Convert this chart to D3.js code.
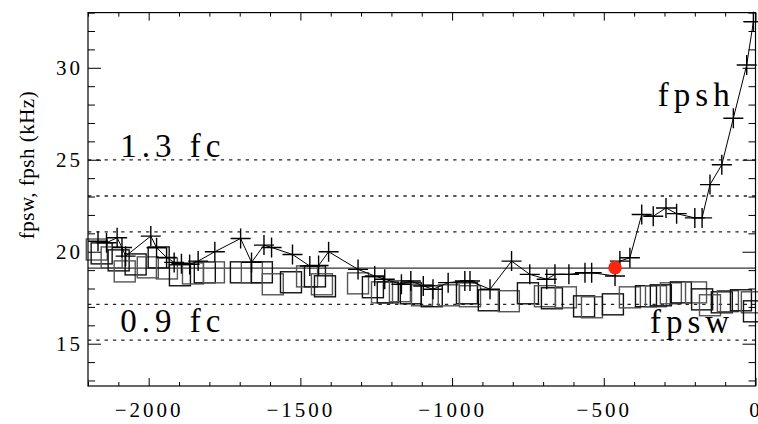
<!DOCTYPE html>
<html>
<head>
<meta charset="utf-8">
<script src="https://cdn.jsdelivr.net/npm/d3@7"></script>
<style>
  body { margin: 0; background: #fff; }
  svg { display: block; }
</style>
</head>
<body>
<div id="chart"></div>
<script>
// CONSTANTS AND GLOBALS
const width = 758,
  height = 424,
  margin = { top: 12.6, bottom: 38, left: 88, right: 2.5 };

// fpsh (plus signs, joined by a line)
const fpshTime = [-2167, -2139, -2104, -2088, -2076, -1993, -1974, -1941, -1916, -1892,
  -1865, -1837, -1782, -1697, -1661, -1620, -1595, -1526, -1469, -1440,
  -1407, -1310, -1255, -1222, -1167, -1136, -1095, -1063, -1013, -958,
  -941, -875, -804, -744, -688, -661, -615, -562, -540, -463,
  -447, -414, -375, -337, -295, -260, -200, -176, -150, -111,
  -73, -29, -7];
const fpshValue = [20.57, 20.49, 20.76, 20.23, 19.76, 20.85, 20.22, 19.69, 19.42, 19.35,
  19.31, 19.49, 20.0, 20.72, 19.42, 20.36, 20.23, 19.85, 19.22, 19.25,
  20.0, 19.04, 18.68, 18.5, 18.23, 18.41, 18.14, 17.96, 18.32, 18.41,
  18.41, 17.96, 19.49, 18.77, 18.5, 18.77, 18.77, 18.86, 18.86, 18.68,
  19.49, 19.67, 22.02, 21.93, 22.38, 22.07, 21.84, 21.84, 23.65, 24.73,
  27.26, 30.15, 32.5];

// fpsw (open squares)
const fpswTime = [-2171, -2155, -2122, -2099, -2079, -2043, -2003, -1967, -1940, -1897,
  -1854, -1815, -1785, -1696, -1660, -1627, -1591, -1531, -1478, -1452,
  -1429, -1419, -1310, -1261, -1231, -1212, -1172, -1136, -1099, -1067,
  -1011, -951, -941, -879, -813, -750, -694, -671, -625, -565,
  -539, -470, -414, -361, -328, -312, -279, -246, -196, -176,
  -150, -111, -91, -48, -12, -5];
const fpswValue = [20.12, 19.91, 19.69, 19.53, 18.93, 19.31, 19.15, 19.69, 19.09, 18.72,
  18.82, 18.88, 18.88, 18.88, 18.88, 18.88, 18.23, 18.34, 18.66, 18.66,
  18.23, 18.12, 18.28, 18.07, 17.79, 17.79, 17.85, 17.74, 17.63, 17.58,
  17.63, 17.74, 17.58, 17.36, 17.31, 17.74, 17.58, 17.47, 17.52, 17.03,
  16.98, 17.14, 17.52, 17.58, 17.58, 17.63, 17.74, 17.79, 17.79, 17.41,
  17.09, 17.25, 17.31, 17.36, 17.25, 16.76];

// reference levels (fc and its multiples)
const fc = 19.11;
const dottedLevels = [24.99, 23.03, 21.08, 17.14, 15.19];
const markTime = [-463];
const markValue = [19.13];

// tick values
const xMajor = [-2000, -1500, -1000, -500, 0];
const yMajor = [15, 20, 25, 30];

const serif = "'Liberation Serif', 'Times New Roman', serif";

// SCALES
const xScale = d3.scaleLinear()
  .domain([-2200, 0])
  .range([margin.left, width - margin.right]);

const yScale = d3.scaleLinear()
  .domain([12.7, 33])
  .range([height - margin.bottom, margin.top]);

const svg = d3.select("#chart")
  .append("svg")
  .attr("width", width)
  .attr("height", height);

const x0 = margin.left, x1 = width - margin.right,
  y0 = margin.top, y1 = height - margin.bottom;

// reference lines
svg.selectAll("line.dotted")
  .data(dottedLevels)
  .join("line")
  .attr("class", "dotted")
  .attr("x1", x0).attr("x2", x1)
  .attr("y1", d => yScale(d)).attr("y2", d => yScale(d))
  .attr("stroke", "#222")
  .attr("stroke-width", 1.3)
  .attr("stroke-dasharray", "3.3,5");

svg.append("line")
  .attr("x1", x0).attr("x2", x1)
  .attr("y1", yScale(fc)).attr("y2", yScale(fc))
  .attr("stroke", "#333")
  .attr("stroke-width", 1.3);

const plot = svg.append("g");

// squares for fpsw
const sq = 21;
plot.selectAll("rect.fpsw")
  .data(fpswTime.map((t, i) => [t, fpswValue[i]]))
  .join("rect")
  .attr("class", "fpsw")
  .attr("x", d => xScale(d[0]) - sq / 2)
  .attr("y", d => yScale(d[1]) - sq / 2)
  .attr("width", sq)
  .attr("height", sq)
  .attr("fill", "none")
  .attr("stroke", (d, i) => i % 2 ? "#111" : "#555")
  .attr("stroke-width", 1.4);

// fpsh line and plus signs
const fpsh = fpshTime.map((t, i) => [t, fpshValue[i]]);
const line = d3.line()
  .x(d => xScale(d[0]))
  .y(d => yScale(d[1]));

plot.append("path")
  .datum(fpsh)
  .attr("d", line)
  .attr("fill", "none")
  .attr("stroke", "#000")
  .attr("stroke-width", 1);

const arm = 10;
plot.selectAll("path.plus")
  .data(fpsh)
  .join("path")
  .attr("class", "plus")
  .attr("d", d => {
    const cx = xScale(d[0]), cy = yScale(d[1]);
    return `M${cx - arm},${cy}H${cx + arm}M${cx},${cy - arm}V${cy + arm}`;
  })
  .attr("stroke", "#000")
  .attr("stroke-width", 1.4);

// red mark
plot.selectAll("circle.mark")
  .data(markTime.map((t, i) => [t, markValue[i]]))
  .join("circle")
  .attr("class", "mark")
  .attr("cx", d => xScale(d[0]))
  .attr("cy", d => yScale(d[1]))
  .attr("r", 6.8)
  .attr("fill", "#f8260c");

// AXES
function styleAxis(g) {
  g.select(".domain").remove();
  g.selectAll("line").attr("stroke", "#000").attr("stroke-width", 1);
  g.selectAll("text")
    .attr("font-family", serif)
    .attr("font-size", 21)
    .attr("letter-spacing", "3px")
    .attr("fill", "#000");
}

const xMinor = d3.range(-2200, 1, 100).filter(v => !xMajor.includes(v));
const yMinor = d3.range(13, 34, 1).filter(v => !yMajor.includes(v));
const fmt = d3.format("d");

svg.append("g")
  .attr("transform", `translate(0,${y1})`)
  .call(d3.axisBottom(xScale).tickValues(xMajor).tickSize(-8).tickPadding(16).tickFormat(fmt))
  .call(styleAxis);
svg.append("g")
  .attr("transform", `translate(0,${y1})`)
  .call(d3.axisBottom(xScale).tickValues(xMinor).tickSize(-4).tickFormat(""))
  .call(styleAxis);
svg.append("g")
  .attr("transform", `translate(0,${y0})`)
  .call(d3.axisTop(xScale).tickValues(xMajor).tickSize(-8).tickFormat(""))
  .call(styleAxis);
svg.append("g")
  .attr("transform", `translate(0,${y0})`)
  .call(d3.axisTop(xScale).tickValues(xMinor).tickSize(-4).tickFormat(""))
  .call(styleAxis);

svg.append("g")
  .attr("transform", `translate(${x0},0)`)
  .call(d3.axisLeft(yScale).tickValues(yMajor).tickSize(-13).tickPadding(5).tickFormat(fmt))
  .call(styleAxis);
svg.append("g")
  .attr("transform", `translate(${x0},0)`)
  .call(d3.axisLeft(yScale).tickValues(yMinor).tickSize(-7).tickFormat(""))
  .call(styleAxis);
svg.append("g")
  .attr("transform", `translate(${x1},0)`)
  .call(d3.axisRight(yScale).tickValues(yMajor).tickSize(-13).tickFormat(""))
  .call(styleAxis);
svg.append("g")
  .attr("transform", `translate(${x1},0)`)
  .call(d3.axisRight(yScale).tickValues(yMinor).tickSize(-7).tickFormat(""))
  .call(styleAxis);

// frame
svg.append("rect")
  .attr("x", x0).attr("y", y0)
  .attr("width", x1 - x0).attr("height", y1 - y0)
  .attr("fill", "none")
  .attr("stroke", "#000")
  .attr("stroke-width", 1.2);

// y title
svg.append("text")
  .attr("transform", `translate(34,165) rotate(-90)`)
  .attr("text-anchor", "middle")
  .attr("font-family", serif)
  .attr("font-size", 21)
  .attr("letter-spacing", "0.5px")
  .text("fpsw, fpsh (kHz)");

// annotations
const notes = [
  { text: "1.3 fc", t: -2094, v: 25.15 },
  { text: "0.9 fc", t: -2094, v: 15.64 },
  { text: "fpsh", t: -322, v: 27.9 },
  { text: "fpsw", t: -348, v: 15.6 }
];
svg.selectAll("text.note")
  .data(notes)
  .join("text")
  .attr("class", "note")
  .attr("x", d => xScale(d.t))
  .attr("y", d => yScale(d.v))
  .attr("font-family", serif)
  .attr("font-size", 33)
  .attr("letter-spacing", "5px")
  .attr("fill", "#000")
  .text(d => d.text);
</script>
</body>
</html>
